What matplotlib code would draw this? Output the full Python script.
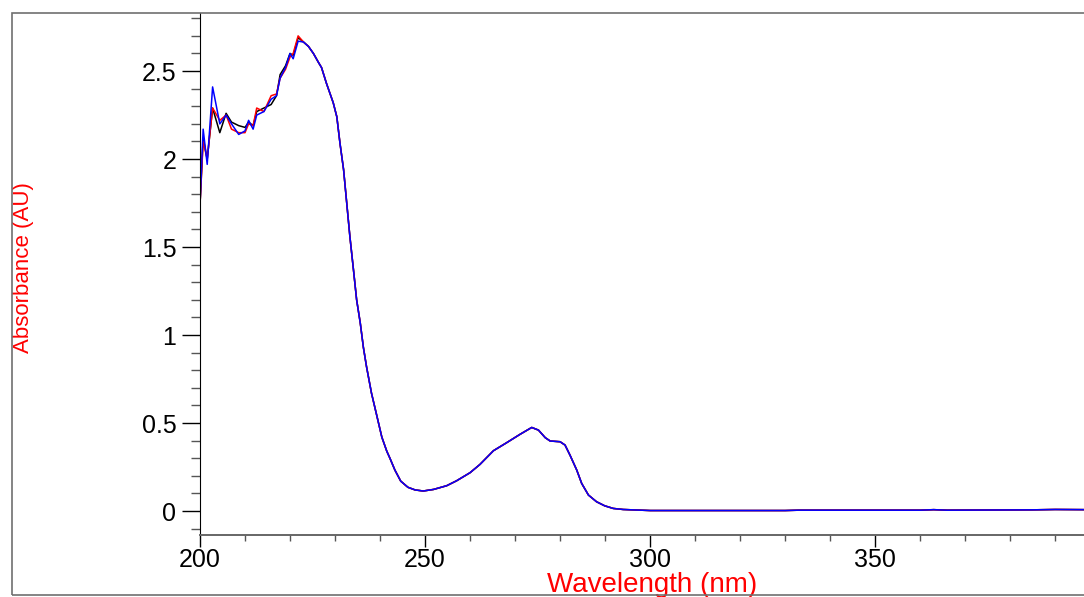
import numpy as np
import matplotlib.pyplot as plt
from matplotlib.patches import Rectangle
from matplotlib.ticker import MultipleLocator

plt.rcParams['font.family'] = ['Liberation Sans', 'DejaVu Sans']

# noisy start of the spectrum, where the three runs differ
wl_head = [200.0, 200.7, 201.6, 202.8, 204.4, 205.8, 207.0, 208.6, 210.0, 210.8,
           211.8, 212.6, 214.2, 215.8, 217.0, 217.8, 219.0, 220.0, 220.7, 221.8]
black_head = [1.74, 2.12, 2.00, 2.29, 2.15, 2.26, 2.21, 2.19, 2.18, 2.21,
              2.19, 2.27, 2.29, 2.31, 2.36, 2.48, 2.53, 2.60, 2.59, 2.69]
red_head = [1.74, 2.10, 2.00, 2.29, 2.22, 2.25, 2.17, 2.15, 2.15, 2.20,
            2.19, 2.29, 2.27, 2.36, 2.37, 2.46, 2.51, 2.58, 2.60, 2.70]
blue_head = [1.74, 2.17, 1.97, 2.41, 2.20, 2.25, 2.20, 2.14, 2.16, 2.22,
             2.17, 2.25, 2.27, 2.34, 2.36, 2.46, 2.52, 2.60, 2.57, 2.67]

# rest of the spectrum (runs overlap)
wl_tail = [223.0, 224.1, 225.2, 226.3, 227.0, 228.1, 229.6, 230.4, 231.1, 231.9,
           232.6, 233.3, 234.1, 234.8, 235.6, 236.3, 237.0, 238.1, 239.3, 240.4,
           241.5, 242.2, 243.3, 244.6, 246.2, 247.8, 249.6, 251.9, 254.8, 257.0,
           260.0, 262.2, 265.2, 268.1, 271.1, 273.7, 275.2, 276.7, 277.8, 280.0,
           281.1, 282.2, 283.7, 284.8, 286.3, 288.1, 289.9, 291.8, 294.0, 297.0,
           300.0, 330.0, 333.0, 360.0, 363.0, 366.0, 385.0, 390.0, 397.0]
abs_tail = [2.665, 2.64, 2.60, 2.55, 2.52, 2.43, 2.32, 2.24, 2.09, 1.94,
            1.75, 1.56, 1.37, 1.20, 1.07, 0.93, 0.82, 0.67, 0.54, 0.42,
            0.34, 0.30, 0.233, 0.17, 0.135, 0.12, 0.114, 0.123, 0.144, 0.172,
            0.218, 0.265, 0.343, 0.388, 0.436, 0.475, 0.460, 0.417, 0.398, 0.394,
            0.375, 0.318, 0.233, 0.157, 0.091, 0.053, 0.03, 0.015, 0.009, 0.006,
            0.003, 0.003, 0.005, 0.005, 0.008, 0.005, 0.007, 0.009, 0.008]

wl = np.array(wl_head + wl_tail)
black = np.array(black_head + abs_tail)
red = np.array(red_head + abs_tail)
blue = np.array(blue_head + abs_tail)

fig = plt.figure(figsize=(10.84, 5.97), dpi=100)
ax = fig.add_axes([200/1084, 62/597, 884/1084, 522/597])

ax.plot(wl, black, color='black', lw=1.1)
ax.plot(wl, red, color='red', lw=1.1)
ax.plot(wl, blue, color='blue', lw=1.1)

ax.set_xlim(200, 396.4)
ax.set_ylim(-0.136, 2.83)

ax.xaxis.set_major_locator(MultipleLocator(50))
ax.xaxis.set_minor_locator(MultipleLocator(10))
ax.yaxis.set_major_locator(MultipleLocator(0.5))
ax.yaxis.set_minor_locator(MultipleLocator(0.1))
ax.yaxis.set_major_formatter(plt.FuncFormatter(lambda v, p: f'{v:g}'))

ax.spines['top'].set_visible(False)
ax.spines['right'].set_visible(False)
ax.spines['bottom'].set_color('#666666')
ax.spines['bottom'].set_linewidth(1.4)
ax.tick_params(axis='x', which='major', length=8.6, width=1, labelsize=18, pad=1)
ax.tick_params(axis='x', which='minor', length=4.3, width=1, color='#555555')
ax.tick_params(axis='y', which='major', length=13, width=1, labelsize=18, pad=4)
ax.tick_params(axis='y', which='minor', length=6.5, width=1, color='#555555')

ax.set_xlabel('Wavelength (nm)', color='red', fontsize=20)
ax.xaxis.set_label_coords(0.511, -0.07)
ax.set_ylabel('Absorbance (AU)', color='red', fontsize=16)
ax.yaxis.set_label_coords(-0.188, 0.513)

# grey frame around the whole picture
fig.patches.append(Rectangle((11.5/1084, 2.5/597), 1.1, 582/597, transform=fig.transFigure,
                             fill=False, edgecolor='#707070', lw=1.2))

fig.savefig('out.png', dpi=100)
